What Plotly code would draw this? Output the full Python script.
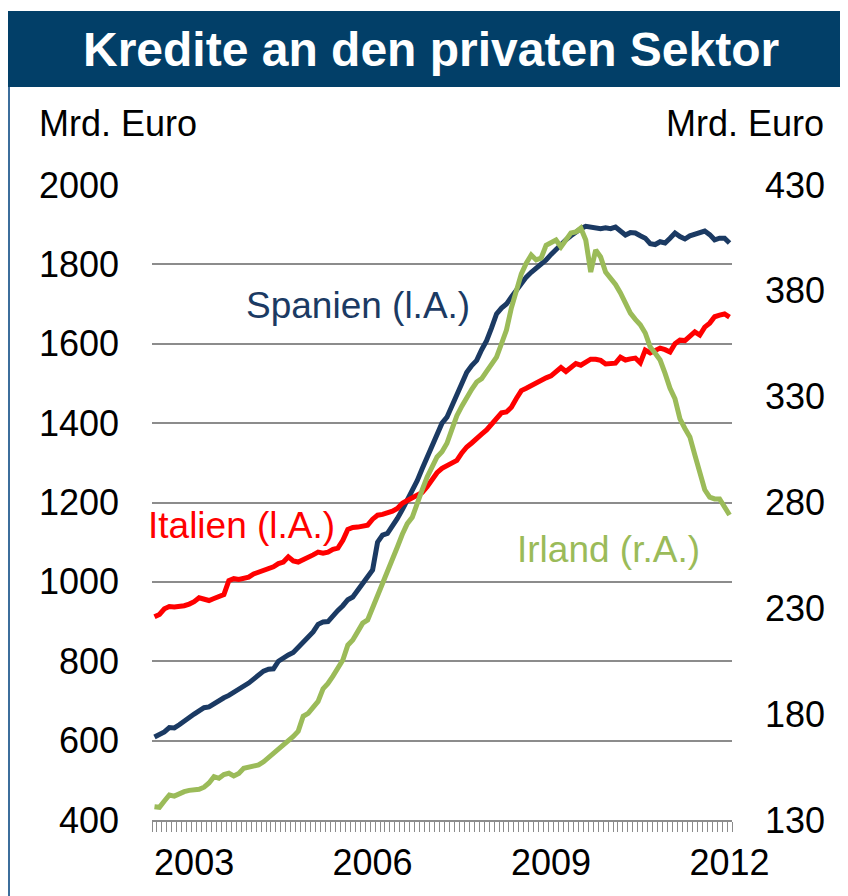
import pandas as pd
import plotly.graph_objects as go

# ---- data (monthly, May 2002 - Jan 2012) ----
months = [str(p) for p in pd.period_range("2002-05", "2012-01", freq="M")]

spanien = [609,615,622,633,632,640,650,660,667,675,
           683,685,693,702,708,714,722,728,735,745,
           755,765,775,780,781,800,809,816,822,835,
           845,862,874,893,899,900,915,928,940,955,
           962,980,997,1013,1030,1100,1118,1122,1140,1160,
           1182,1205,1230,1255,1285,1312,1340,1370,1400,1415,
           1445,1475,1500,1528,1545,1558,1585,1608,1640,1675,
           1690,1700,1718,1735,1752,1768,1780,1790,1800,1811,
           1825,1838,1852,1862,1872,1882,1890,1896,1894,1889,
           1890,1892,1890,1894,1885,1874,1880,1879,1872,1866,
           1852,1850,1857,1854,1866,1879,1870,1864,1872,1876,
           1880,1884,1875,1862,1866,1866,1854]

italien = [912,918,932,938,937,938,940,944,950,960,
           958,953,958,962,968,1003,1008,1006,1008,1012,
           1020,1024,1028,1032,1038,1046,1050,1063,1053,1050,
           1055,1060,1068,1075,1072,1075,1082,1085,1105,1132,
           1137,1138,1140,1143,1158,1168,1170,1173,1178,1185,
           1198,1205,1212,1218,1225,1240,1258,1275,1286,1292,
           1300,1306,1325,1340,1350,1363,1372,1383,1397,1412,
           1426,1428,1440,1462,1482,1488,1495,1502,1508,1514,
           1519,1530,1540,1530,1540,1550,1546,1555,1561,1561,
           1558,1549,1550,1551,1566,1559,1562,1564,1552,1584,
           1577,1582,1589,1585,1579,1600,1609,1608,1618,1630,
           1622,1642,1652,1668,1672,1675,1667]

irland = [136.3,136,139,141.8,141.3,142.5,143.4,144,144.3,144.5,
          145.5,147.5,150.5,149.7,151.5,152.1,150.8,152,154.4,154.8,
          155.2,156,157.5,159.5,161.5,163.5,165.5,167,169.5,172,
          179,180.4,183,186,192,194.5,198,201.5,205.6,212.6,
          215,219,223,224.5,230,236,242,248,253.5,259,
          265,270,273,280,286,292,297,301.5,304,308,
          314.5,321,325.5,329.8,333.5,336.9,338.5,342,345.5,348.7,
          355,361.5,372,380,388,393.1,396.9,394.6,395.5,401.5,
          402.6,404,400.7,404,407.3,407.8,409.7,404,388.9,399.3,
          396,388.9,386,383,379,374,369.5,366.5,364,360.1,
          353.5,350.5,347.3,341,334,329,319.5,315,311,302.5,
          294,286,282.5,281.7,281.7,278,274.1]

tick_years = ["2003", "2006", "2009", "2012"]
left_ticks = [400, 600, 800, 1000, 1200, 1400, 1600, 1800, 2000]
right_ticks = [130, 180, 230, 280, 330, 380, 430]

# ---- styling ----
FONT = "Arial, Liberation Sans, sans-serif"
NAVY = "#1B3A63"
RED = "#FF0000"
GREEN = "#9BBB59"
GRID = "#8C8C8C"
BAR = "#023F68"

x = list(range(len(months)))
label_pos = [months.index(y + "-01") for y in tick_years]

fig = go.Figure()
fig.add_trace(go.Scatter(x=x, y=spanien, mode="lines", name="Spanien",
                         line=dict(color=NAVY, width=5), yaxis="y"))
fig.add_trace(go.Scatter(x=x, y=italien, mode="lines", name="Italien",
                         line=dict(color=RED, width=5), yaxis="y"))
fig.add_trace(go.Scatter(x=x, y=irland, mode="lines", name="Irland",
                         line=dict(color=GREEN, width=5), yaxis="y2"))

OFF = 8  # page body margin
W, H = 840, 888
L, R, T, B = 144, 116, 177, 76
pw, ph = W - L - R, H - T - B

def px(xa):
    return (xa - OFF - L) / pw

def py(ya):
    return (H - B - (ya - OFF)) / ph

fig.update_layout(
    width=W, height=H,
    margin=dict(l=L, r=R, t=T, b=B, pad=0, autoexpand=False),
    paper_bgcolor="white", plot_bgcolor="white",
    showlegend=False,
    font=dict(family=FONT, size=36, color="black"),
    xaxis=dict(
        range=[-0.5, len(months) - 0.5], automargin=False,
        tickmode="array", tickvals=label_pos, ticktext=tick_years,
        ticks="", showgrid=False, zeroline=False,
        showline=True, linecolor=GRID, linewidth=2,
        ticklabelstandoff=10,
        minor=dict(tickmode="array",
                   tickvals=[i - 0.5 for i in range(len(months) + 1)],
                   ticks="outside", ticklen=10, tickwidth=1.3,
                   tickcolor=GRID, showgrid=False),
        tickfont=dict(size=36),
    ),
    yaxis=dict(
        range=[400, 2000], tickmode="array", tickvals=left_ticks,
        automargin=False,
        showgrid=True, gridcolor=GRID, gridwidth=2,
        zeroline=False, showline=False, ticks="",
        ticklabelstandoff=32, tickfont=dict(size=36),
    ),
    yaxis2=dict(
        range=[130, 430], tickmode="array", tickvals=right_ticks,
        automargin=False,
        overlaying="y", side="right", showgrid=False,
        zeroline=False, showline=False, ticks="",
        ticklabelstandoff=32, tickfont=dict(size=36),
    ),
    shapes=[
        dict(type="rect", xref="paper", yref="paper",
             x0=px(7), x1=px(860), y0=py(87), y1=py(11),
             fillcolor=BAR, line=dict(width=0), layer="above"),
        dict(type="line", xref="paper", yref="paper",
             x0=px(9), x1=px(9), y0=py(910), y1=py(87),
             line=dict(color="#3C6E9C", width=2)),
    ],
    annotations=[
        dict(text="<b>Kredite an den privaten Sektor</b>", xref="paper", yref="paper",
             x=px(431), y=py(50), xanchor="center", yanchor="middle",
             showarrow=False, font=dict(size=48, color="white", family=FONT)),
        dict(text="Mrd. Euro", xref="paper", yref="paper",
             x=px(37), y=py(124), xanchor="left", yanchor="middle",
             showarrow=False, font=dict(size=36)),
        dict(text="Mrd. Euro", xref="paper", yref="paper",
             x=px(826), y=py(124), xanchor="right", yanchor="middle",
             showarrow=False, font=dict(size=36)),
        dict(text="Spanien (l.A.)", xref="paper", yref="paper",
             x=px(244), y=py(305), xanchor="left", yanchor="middle",
             showarrow=False, font=dict(size=37, color=NAVY)),
        dict(text="Italien (l.A.)", xref="paper", yref="paper",
             x=px(146), y=py(525), xanchor="left", yanchor="middle",
             showarrow=False, font=dict(size=37, color=RED)),
        dict(text="Irland (r.A.)", xref="paper", yref="paper",
             x=px(515), y=py(549), xanchor="left", yanchor="middle",
             showarrow=False, font=dict(size=37, color=GREEN)),
    ],
)

fig.write_html("out.html")
